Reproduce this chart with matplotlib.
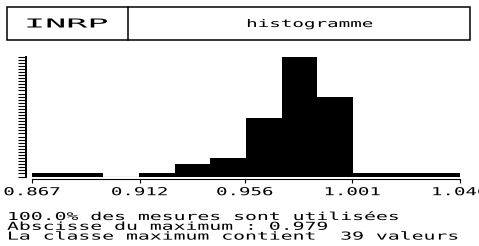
import numpy as np
import matplotlib
matplotlib.use('Agg')
import matplotlib.pyplot as plt
import matplotlib.patheffects as pe
from matplotlib.transforms import Affine2D
from matplotlib.patches import Rectangle
from matplotlib.lines import Line2D

# ---------------- data ----------------
header_left = "INRP"
header_title = "histogramme"
x_min, x_max = 0.867, 1.046
counts = [1, 1, 0, 1, 4, 6, 19, 39, 26, 1, 1, 1]
tick_values = [0.867, 0.912, 0.956, 1.001, 1.046]
tick_labels = ["0.867", "0.912", "0.956", "1.001", "1.046"]
summary_lines = [
    "100.0% des mesures sont utilisées",
    "Abscisse du maximum : 0.979",
    "La classe maximum contient  39 valeurs",
]

W, H, DPI = 479, 246, 100
MONO = "DejaVu Sans Mono"


class Stretch(pe.AbstractPathEffect):
    """Stretch text glyphs (wide dot-matrix printer look)."""

    def __init__(self, sx, sy=1.0, center=False):
        super().__init__()
        self.sx = sx
        self.sy = sy
        self.center = center

    def draw_path(self, renderer, gc, tpath, affine, rgbFace=None):
        cx = 0.0
        if self.center:
            ext = tpath.get_extents()
            cx = 0.5 * (ext.x0 + ext.x1)
        t = (Affine2D().translate(-cx, 0).scale(self.sx, self.sy)
             .translate(cx, 0) + affine)
        renderer.draw_path(gc, tpath, t, rgbFace)


def fx(px):
    return px / W


def fy(py):
    return 1 - py / H


fig = plt.figure(figsize=(W / DPI, H / DPI), dpi=DPI, facecolor="white")

# ---------------- header box ----------------
fig.add_artist(Rectangle((fx(7), fy(40)), fx(470) - fx(7), fy(7) - fy(40),
                         transform=fig.transFigure, fill=False, lw=1.1, ec="black"))
fig.add_artist(Line2D([fx(128), fx(128)], [fy(7), fy(40)],
                      transform=fig.transFigure, lw=1.1, color="black"))
fig.text(fx(67), fy(24), header_left, ha="center", va="center", fontsize=8.9,
         family=MONO, path_effects=[Stretch(2.84, 1.0, True)])
fig.text(fx(310), fy(24), header_title, ha="center", va="center", fontsize=7.6,
         family=MONO, path_effects=[Stretch(1.82, 1.0, True)])

# ---------------- histogram ----------------
ax = fig.add_axes([fx(32), fy(176.5), fx(460) - fx(32), fy(56.7) - fy(176.5)])
ax.set_facecolor("none")
ax.set_xlim(x_min, x_max)
ax.set_ylim(0, max(counts))
edges = np.linspace(x_min, x_max, len(counts) + 1)
ax.bar(edges[:-1], counts, width=np.diff(edges), align="edge",
       color="black", linewidth=0, clip_on=False)
ax.axhline(0, color="black", lw=0.8)

for s in ("top", "right"):
    ax.spines[s].set_visible(False)
ax.spines["bottom"].set_position(("outward", 1.5))
ax.spines["bottom"].set_linewidth(0.8)
ax.spines["left"].set_position(("outward", 4.3))
ax.spines["left"].set_linewidth(1.4)

ax.set_yticks(np.arange(0, max(counts) + 1))
ax.tick_params(axis="y", direction="out", length=5.8, width=0.8, labelleft=False)
ax.set_xticks(tick_values, tick_labels)
ax.tick_params(axis="x", direction="out", length=3.2, width=0.8, pad=3,
               labelsize=7.9)
for lab in ax.get_xticklabels():
    lab.set_fontfamily(MONO)
    lab.set_path_effects([Stretch(1.74, 1.0, True)])

# ---------------- summary text ----------------
fs = 5.8
em = fs * DPI / 72.0
sx = 11.9 / (0.602 * em)
sy = 8.0 / (0.729 * em)
for i, line in enumerate(summary_lines):
    fig.text(fx(7), fy(220.0 + 9.8 * i), line, ha="left", va="baseline",
             fontsize=fs, family=MONO, path_effects=[Stretch(sx, sy)])

fig.savefig("out.png", dpi=DPI, facecolor="white")
